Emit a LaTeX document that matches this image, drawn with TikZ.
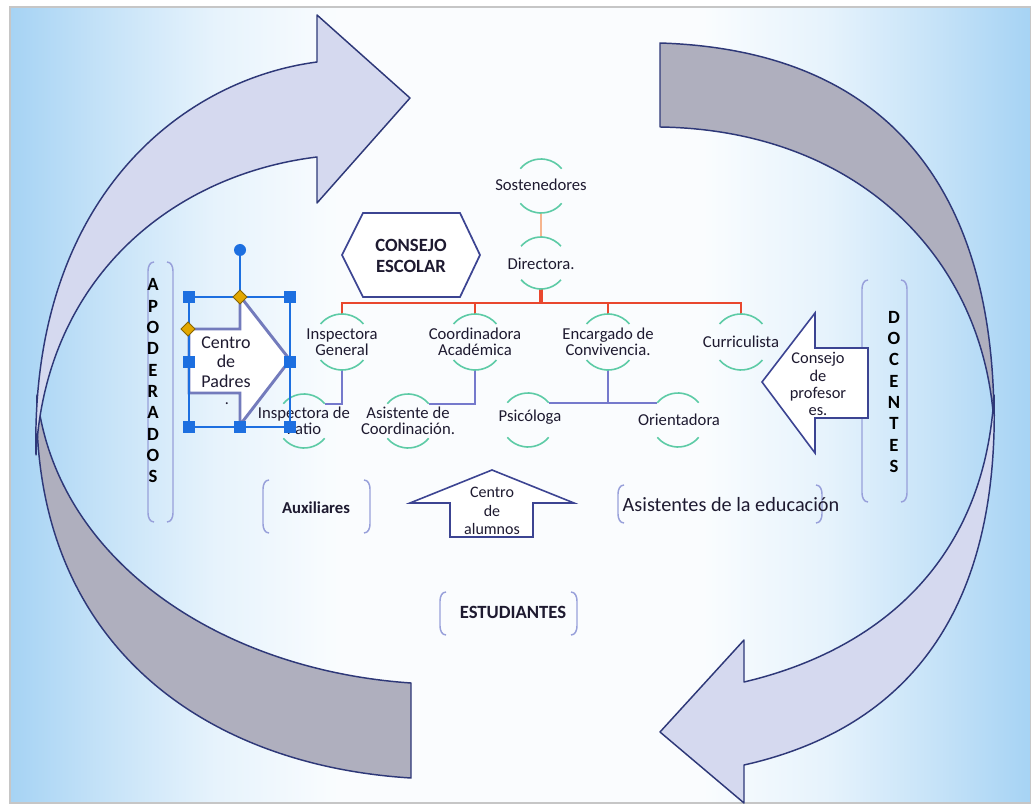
\documentclass[tikz,border=0pt]{standalone}
\usepackage{fontspec}
\setmainfont{Carlito}
\usetikzlibrary{calc}
\definecolor{bgblue}{HTML}{A6D3F4}
\definecolor{bignavy}{HTML}{2E3878}
\definecolor{lav}{HTML}{D5D9EF}
\definecolor{greyband}{HTML}{AFAFBE}
\definecolor{arcc}{HTML}{5DCBA6}
\definecolor{redc}{HTML}{E9472E}
\definecolor{orc}{HTML}{F6B58E}
\definecolor{blc}{HTML}{7579CC}
\definecolor{brkc}{HTML}{98A0DA}
\definecolor{txt}{HTML}{1E1A30}
\definecolor{hexc}{HTML}{3C4492}
\definecolor{selc}{HTML}{1D6FE0}
\definecolor{goldc}{HTML}{E3A800}
\definecolor{padc}{HTML}{737BBC}
\pgfdeclarehorizontalshading{bgshade}{100bp}{color(0bp)=(bgblue); color(25bp)=(bgblue); color(30bp)=(bgblue!62!white); color(35bp)=(bgblue!28!white); color(41bp)=(bgblue!6!white); color(59bp)=(bgblue!6!white); color(65bp)=(bgblue!28!white); color(70bp)=(bgblue!62!white); color(75bp)=(bgblue); color(100bp)=(bgblue)}
\newcommand\ringarcs[2]{%
 \draw[arcst] ([shift={(40:#2)}]#1.center) arc[start angle=40,end angle=140,radius=#2];
 \draw[arcst] ([shift={(220:#2)}]#1.center) arc[start angle=220,end angle=320,radius=#2];}
\newcommand\brbox[4]{%
 \draw[brk] (#1+6,#2) to[out=180,in=90] (#1,#2+9) -- (#1,#4-9) to[out=-90,in=180] (#1+6,#4);
 \draw[brk] (#3-6,#2) to[out=0,in=90] (#3,#2+9) -- (#3,#4-9) to[out=-90,in=0] (#3-6,#4);}
\begin{document}
\begin{tikzpicture}[x=0.75pt,y=-0.75pt,
 bigline/.style={draw=bignavy, line width=1.1pt, line join=round},
 brk/.style={draw=brkc, line width=1.1pt},
 arcst/.style={draw=arcc, line width=1.2pt},
 ring/.style={circle, minimum size=1.5pt*#1, inner sep=0pt, outer sep=0pt},
 redl/.style={draw=redc, line width=1.2pt},
 redthick/.style={draw=redc, line width=2.8pt},
 orl/.style={draw=orc, line width=1.6pt},
 bll/.style={draw=blc, line width=1.6pt},
 lbl/.style={text=txt, align=center, inner sep=0pt, font=\fontsize{12.5}{11.8}\selectfont},
 arrline/.style={draw=hexc, line width=1.2pt, fill=white},
 boldlbl/.style={text=txt, align=center, inner sep=0pt, font=\bfseries\fontsize{14}{15.8}\selectfont},
 vert/.style={text=black, align=center, inner sep=0pt, font=\bfseries\fontsize{14}{16}\selectfont}]
\useasboundingbox (0,0) rectangle (1031,805);
\fill[white] (0,0) rectangle (1031,805);
\path[shading=bgshade] (10,7) rectangle (1031,803);
\draw[gray!45, line width=0.8pt] (10,7) rectangle (1031,803);

% big curved shapes
\filldraw[bigline, fill=greyband] (37,395) .. controls (30,640) and (200,765) .. (411,778) -- (411,683) .. controls (220,670) and (55,560) .. (37,395) -- cycle;
\filldraw[bigline, fill=greyband] (660,43) .. controls (880,50) and (995,180) .. (994,425) .. controls (985,260) and (860,130) .. (660,127) -- cycle;
\filldraw[bigline, fill=lav] (36,455) .. controls (30,200) and (180,80) .. (317,62) -- (317,15) -- (410,98) -- (317,203) -- (317,157) .. controls (170,175) and (45,280) .. (36,455) -- cycle;
\filldraw[bigline, fill=lav] (994,395) .. controls (1000,620) and (900,730) .. (744,765) -- (744,803) -- (660,732) -- (744,640) -- (744,682) .. controls (880,650) and (985,560) .. (994,395) -- cycle;

% brackets
\brbox{148}{262}{173}{522}
\brbox{862}{280}{907}{502}
\brbox{263}{480}{370}{533}
\brbox{440}{592}{577}{635}
\brbox{618}{485}{822}{523}

% hexagon
\filldraw[draw=hexc, line width=1.3pt, fill=white] (342,255) -- (363,213) -- (460,213) -- (480,255) -- (460,297) -- (363,297) -- cycle;

% arrows
\filldraw[draw=padc, line width=2.2pt, fill=white, line join=miter] (189,329) -- (240,329) -- (240,296) -- (290,360) -- (240,425) -- (240,393) -- (189,393) -- cycle;
\filldraw[arrline] (868,348) -- (815,348) -- (815,313) -- (762,382) -- (815,453) -- (815,418) -- (868,418) -- cycle;
\filldraw[arrline] (450,537) -- (450,503) -- (410,503) -- (492,470) -- (574,503) -- (533,503) -- (533,537) -- cycle;

% ring nodes
\node[ring=27] (sostR) at (541,186) {};
\node[ring=26] (dirR) at (541,263) {};
\node[ring=28] (insgR) at (342,342) {};
\node[ring=28] (coorR) at (475,342) {};
\node[ring=28] (encR) at (608,342) {};
\node[ring=28] (currR) at (741,342) {};
\node[ring=27] (patioR) at (304,421) {};
\node[ring=27] (asisR) at (408,421) {};
\node[ring=27] (psicR) at (528,420) {};
\node[ring=27] (orienR) at (678,420) {};
\coordinate (bar) at (541,303);

% connectors
\draw[orl] (sostR.south) -- (dirR.north);
\draw[redthick] (dirR.south) -- (bar);
\draw[redl] (insgR.north) |- (bar);
\draw[redl] (currR.north) |- (bar);
\draw[redl] (coorR.north) -- (coorR.north |- bar);
\draw[redl] (encR.north) -- (encR.north |- bar);
\draw[bll] (insgR.south) |- (patioR.40);
\draw[bll] (coorR.south) |- (asisR.40);
\draw[bll] (psicR.40) -| (encR.south);
\draw[bll] (orienR.140) -| (encR.south);

\ringarcs{sostR}{27}
\ringarcs{dirR}{26}
\ringarcs{insgR}{28}
\ringarcs{coorR}{28}
\ringarcs{encR}{28}
\ringarcs{currR}{28}
\ringarcs{patioR}{27}
\ringarcs{asisR}{27}
\ringarcs{psicR}{27}
\ringarcs{orienR}{27}

% labels
\node[lbl] (sost) at (541,185) {Sostenedores};
\node[lbl] (dir) at (541,264) {Directora.};
\node[lbl] (insg) at (342,342) {Inspectora\\General};
\node[lbl] (coor) at (475,342) {Coordinadora\\Académica};
\node[lbl] (enc) at (608,342) {Encargado de\\Convivencia.};
\node[lbl] (curr) at (741,342) {Curriculista};
\node[lbl] (patio) at (304,421) {Inspectora de\\Patio};
\node[lbl] (asis) at (408,421) {Asistente de\\Coordinación.};
\node[lbl] (psic) at (530,417) {Psicóloga};
\node[lbl] (orien) at (679,420) {Orientadora};
\node[boldlbl] (consejo) at (411,256) {CONSEJO\\ESCOLAR};
\node[text=txt, align=center, inner sep=0pt, font=\fontsize{13.5}{14.6}\selectfont] (padres) at (226,362) {Centro\\de\\Padres};
\node[text=txt, inner sep=0pt, font=\fontsize{12}{12}\selectfont] (pdot) at (227,404) {.};
\node[text=txt, align=center, inner sep=0pt, font=\fontsize{12.3}{12.8}\selectfont] (profes) at (818,384) {Consejo\\de\\profesor\\es.};
\node[text=txt, align=center, inner sep=0pt, font=\fontsize{12}{13.9}\selectfont] (alumnos) at (492,511) {Centro\\de\\alumnos};
\node[text=txt, inner sep=0pt, font=\bfseries\fontsize{12.5}{13}\selectfont] (aux) at (316,508) {Auxiliares};
\node[boldlbl] (estud) at (513,612) {ESTUDIANTES};
\node[text=txt, inner sep=0pt, font=\fontsize{15.2}{16}\selectfont] (asised) at (731,505) {Asistentes de la educación};
\node[vert] (apod) at (153,381) {A\\P\\O\\D\\E\\R\\A\\D\\O\\S};
\node[vert] (doc) at (894,392) {D\\O\\C\\E\\N\\T\\E\\S};

% selection handles
\draw[selc, line width=0.9pt] (189,297) rectangle (290,427);
\draw[selc, line width=0.9pt] (240,256) -- (240,297);
\fill[selc] (240,250) circle (6);
\foreach \p in {(189,297),(290,297),(189,362),(290,362),(189,427),(240,427),(290,427)}
  \fill[selc] \p ++(-6,-6) rectangle ++(12,12);
\foreach \p in {(240,297),(188,329)}
  \filldraw[fill=goldc, draw=goldc!60!black, line width=0.6pt] \p ++(-7,0) -- ++(7,-7) -- ++(7,7) -- ++(-7,7) -- cycle;
\end{tikzpicture}
\end{document}
